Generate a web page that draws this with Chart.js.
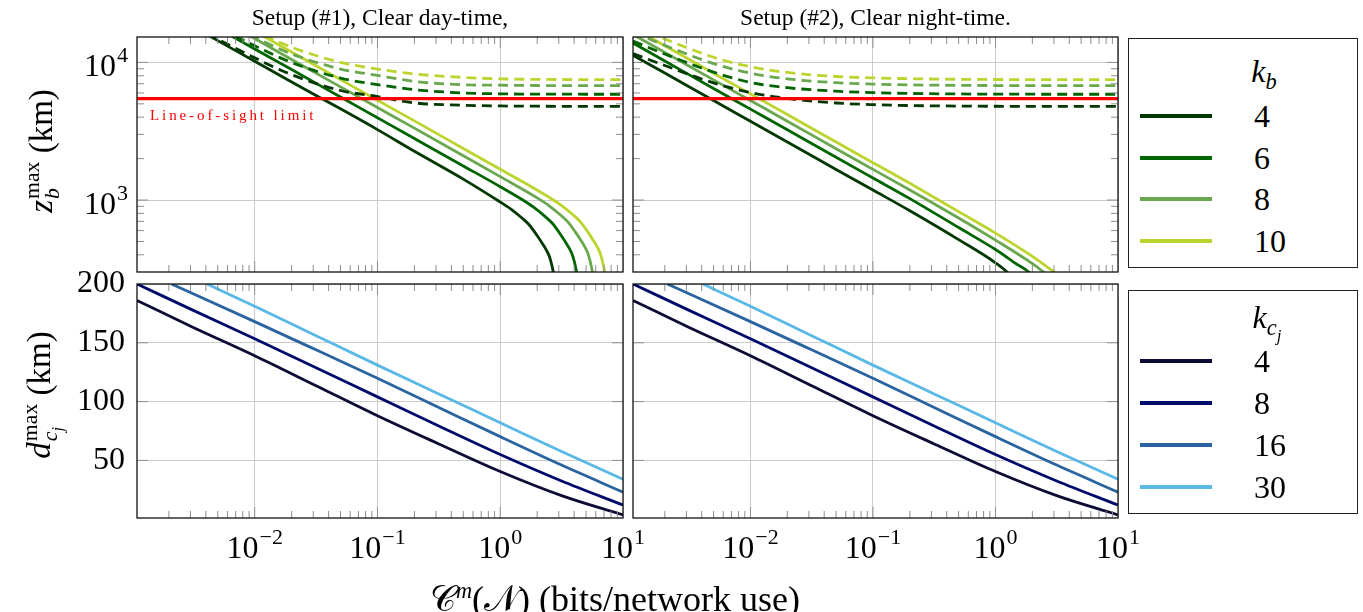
<!DOCTYPE html>
<html>
<head>
<meta charset="utf-8">
<script src="https://cdn.jsdelivr.net/npm/chart.js@4.4.1/dist/chart.umd.min.js"></script>
<style>
  body { margin: 0; background: #fff; }
  #page { position: relative; width: 1363px; height: 612px; overflow: hidden; font-family: 'Liberation Serif', 'DejaVu Serif', serif; color: #000; }
  canvas { position: absolute; }
  .txt { position: absolute; white-space: nowrap; line-height: 1; }
  .rot { transform: translate(-50%, -50%) rotate(-90deg); }
  .ss { display: inline-block; vertical-align: -0.32em; font-size: 0.66em; line-height: 0.9; text-align: left; margin-left: 1px; }
  .ss span { display: block; }
  .leg { position: absolute; border: 1.3px solid #222; background: #fff; }
  .leg .sw { position: absolute; left: 11px; width: 72px; height: 3.5px; }
  .leg .lab { position: absolute; left: 125px; font-size: 32px; line-height: 1; transform: translateY(-50%); }
  .leg .ttl { position: absolute; font-size: 32px; line-height: 1; transform: translate(-50%, -50%); }
</style>
</head>
<body>
<div id="page">
  <canvas id="cTL" width="660" height="280" style="left:0;top:0"></canvas>
  <canvas id="cTR" width="545" height="280" style="left:630px;top:0"></canvas>
  <canvas id="cBL" width="660" height="352" style="left:0;top:260px"></canvas>
  <canvas id="cBR" width="545" height="352" style="left:630px;top:260px"></canvas>

  <div class="txt" style="left:137px;width:486px;top:6px;text-align:center;font-size:23.5px">Setup (#1), Clear day-time,</div>
  <div class="txt" style="left:633px;width:485px;top:6px;text-align:center;font-size:23.5px">Setup (#2), Clear night-time.</div>

  <div class="txt rot" style="left:43px;top:151px;font-size:33px"><i>z</i><span class="ss"><span>max</span><span><i>b</i></span></span> (km)</div>
  <div class="txt rot" style="left:43px;top:395px;font-size:33px"><i>d</i><span class="ss"><span>max</span><span><i>c<sub style="font-size:0.75em">j</sub></i></span></span> (km)</div>
  <div class="txt" style="left:615px;top:598px;transform:translate(-50%,-50%);font-size:36px">𝒞<sup style="font-size:0.62em"><i>m</i></sup>(𝒩) (bits/network use)</div>

  <div class="txt" style="left:150px;top:108px;font-size:15px;letter-spacing:2.9px;color:#ff0000">Line-of-sight limit</div>

  <div class="leg" id="legTop" style="left:1128px;top:38px;width:228px;height:228px"></div>
  <div class="leg" id="legBot" style="left:1128px;top:290px;width:228px;height:222px"></div>
</div>
<script>
// x axis (shared by all panels)
const xMin = 0.0011, xMax = 10;
const xTickValues = [0.01, 0.1, 1, 10];
const xTickExps = ['\u22122', '\u22121', '0', '1'];
const xMinorTicks = [0.002, 0.003, 0.004, 0.005, 0.006, 0.007, 0.008, 0.009,
  0.02, 0.03, 0.04, 0.05, 0.06, 0.07, 0.08, 0.09,
  0.2, 0.3, 0.4, 0.5, 0.6, 0.7, 0.8, 0.9,
  2, 3, 4, 5, 6, 7, 8, 9];

// top panels (z_b max, log scale)
const zMin = 300, zMax = 15300;
const zTickValues = [1000, 10000];
const zTickExps = ['3', '4'];
const zMinorTicks = [400, 500, 600, 700, 800, 900, 2000, 3000, 4000, 5000, 6000, 7000, 8000, 9000];
const losLimit = 5450;

// bottom panels (d_cj max, linear)
const dMin = 1, dMax = 200;
const dTickValues = [50, 100, 150, 200];
const dTickLabels = ['50', '100', '150', '200'];

const kbValues = ['4', '6', '8', '10'];
const kbColors = ['#033803', '#006400', '#6aa84f', '#bdd42e'];
const kcValues = ['4', '8', '16', '30'];
const kcColors = ['#0b0b36', '#000a6a', '#2a64a0', '#5ab8e6'];

// Setup #1, clear day-time: solid lines
const daySolidK4 = [[0.0011,30900],[0.002,22900],[0.005,14400],[0.01,10200],[0.02,7200],[0.05,4600],[0.1,3250],[0.2,2260],[0.5,1420],[0.97,984],[1.222,859],[1.503,740],[1.726,659],[1.995,553],[2.223,478],[2.382,431],[2.506,392],[2.612,346],[2.673,316],[2.735,284],[2.77,262]];
const daySolidK6 = [[0.0011,37800],[0.002,28000],[0.005,17700],[0.01,12500],[0.02,8870],[0.05,5600],[0.1,3960],[0.2,2800],[0.5,1770],[1,1250],[1.493,1013],[1.879,884],[2.312,761],[2.655,678],[3.069,569],[3.42,491],[3.664,443],[3.855,403],[4.018,356],[4.111,325],[4.207,293],[4.26,263]];
const daySolidK8 = [[0.0011,44900],[0.002,33300],[0.005,21000],[0.01,14900],[0.02,10500],[0.05,6640],[0.1,4700],[0.2,3330],[0.5,2100],[1,1480],[2,1036],[2.518,905],[3.097,779],[3.556,694],[4.111,582],[4.581,503],[4.909,453],[5.164,413],[5.383,364],[5.508,332],[5.636,300],[5.71,268]];
const daySolidK10 = [[0.0011,50700],[0.002,37600],[0.005,23700],[0.01,16800],[0.02,11900],[0.05,7500],[0.1,5310],[0.2,3760],[0.5,2370],[1,1675],[1.6,1325],[2.512,1045],[3.162,912],[3.89,785],[4.467,700],[5.164,587],[5.754,507],[6.166,457],[6.486,416],[6.761,367],[6.918,335],[7.079,302],[7.16,270]];
// Setup #1: dashed lines
const dayDashK4 = [[0.0011,31000],[0.002,23080],[0.005,14760],[0.01,10790],[0.02,8145],[0.05,6250],[0.1,5650],[0.2,5080],[0.5,4885],[1,4828],[2,4805],[5,4795],[10,4792]];
const dayDashK6 = [[0.0011,37970],[0.002,28270],[0.005,18080],[0.01,13210],[0.02,9975],[0.05,7700],[0.1,6900],[0.2,6340],[0.5,6000],[1,5913],[2,5885],[5,5872],[10,5869]];
const dayDashK8 = [[0.0011,43840],[0.002,32640],[0.005,20870],[0.01,15260],[0.02,11520],[0.05,8950],[0.1,8050],[0.2,7280],[0.5,6880],[1,6828],[2,6795],[5,6781],[10,6777]];
const dayDashK10 = [[0.0011,48520],[0.002,36120],[0.005,23100],[0.01,16890],[0.02,12900],[0.05,10000],[0.1,8950],[0.2,8240],[0.5,7780],[1,7600],[2,7530],[5,7504],[10,7500]];

// Setup #2, clear night-time: solid lines
const nightSolidK4 = [[0.0011,11270],[0.002,8366],[0.005,5280],[0.01,3737],[0.02,2645],[0.05,1669],[0.1,1182],[0.2,836],[0.5,516],[1,350],[1.25,298],[1.3,285]];
const nightSolidK6 = [[0.0011,13820],[0.002,10240],[0.005,6465],[0.01,4577],[0.02,3240],[0.05,2044],[0.1,1447],[0.2,1024],[0.5,631],[1,437],[1.5,341],[1.88,298],[1.95,285]];
const nightSolidK8 = [[0.0011,15960],[0.002,11830],[0.005,7464],[0.01,5284],[0.02,3741],[0.05,2360],[0.1,1671],[0.2,1183],[0.5,740],[1,511],[2,345],[2.6,290]];
const nightSolidK10 = [[0.0011,17850],[0.002,13230],[0.005,8347],[0.01,5908],[0.02,4183],[0.05,2639],[0.1,1868],[0.2,1323],[0.5,824],[1,575],[2,390],[3.15,292]];
// Setup #2: dashed lines
const nightDashK4 = [[0.0011,11600],[0.002,9500],[0.005,7100],[0.01,6050],[0.02,5472],[0.05,5072],[0.1,4933],[0.2,4862],[0.5,4818],[1,4802],[10,4792]];
const nightDashK6 = [[0.0011,14300],[0.002,11500],[0.005,8500],[0.01,7150],[0.02,6550],[0.05,6180],[0.1,6030],[0.2,5950],[0.5,5900],[1,5881],[10,5869]];
const nightDashK8 = [[0.0011,16500],[0.002,13300],[0.005,9800],[0.01,8350],[0.02,7600],[0.05,7120],[0.1,6960],[0.2,6870],[0.5,6814],[1,6791],[10,6777]];
const nightDashK10 = [[0.0011,18500],[0.002,14800],[0.005,10900],[0.01,9300],[0.02,8450],[0.05,7900],[0.1,7720],[0.2,7609],[0.5,7540],[1,7515],[10,7500]];

// bottom panels (same in both setups)
const distK4 = [[0.0011,186],[0.0031,163.5],[0.01,139],[0.0316,113.5],[0.1,88],[0.316,64],[1,40.5],[3.16,20],[10,3.6]];
const distK8 = [[0.0011,200],[0.0031,178],[0.01,153.5],[0.0316,128.8],[0.1,104],[0.316,79.3],[1,55],[3.16,32.5],[10,12]];
const distK16 = [[0.0021,200],[0.01,168],[0.0316,144],[0.1,119.8],[0.316,95],[1,70.2],[3.16,46],[10,23]];
const distK30 = [[0.0041,200],[0.01,181],[0.0316,156],[0.1,131],[0.316,106.5],[1,82],[3.16,57.5],[10,34]];

const serif = "'Liberation Serif', 'DejaVu Serif', serif";
Chart.defaults.font.family = serif;
Chart.defaults.color = '#000';

// frame, inward ticks and "10^n" tick labels
const framePlugin = {
  id: 'frame',
  afterDraw(chart, args, o) {
    const { ctx, chartArea: a } = chart;
    const sx = chart.scales.x, sy = chart.scales.y;
    const seg = (x1, y1, x2, y2) => { ctx.beginPath(); ctx.moveTo(x1, y1); ctx.lineTo(x2, y2); ctx.stroke(); };
    ctx.save();
    ctx.strokeStyle = '#8f8f8f';
    ctx.lineWidth = 1;
    const xt = (list, len) => list.forEach(v => {
      const p = sx.getPixelForValue(v);
      if (p <= a.left + 0.5 || p >= a.right - 0.5) return;
      seg(p, a.bottom, p, a.bottom - len); seg(p, a.top, p, a.top + len);
    });
    const yt = (list, len) => list.forEach(v => {
      const p = sy.getPixelForValue(v);
      if (p <= a.top + 0.5 || p >= a.bottom - 0.5) return;
      seg(a.left, p, a.left + len, p); seg(a.right, p, a.right - len, p);
    });
    xt(o.xMinor, 7); xt(o.xMajor, 11);
    yt(o.yMinor, 7); yt(o.yMajor, 11);
    ctx.strokeStyle = '#111';
    ctx.lineWidth = 1.3;
    ctx.strokeRect(a.left, a.top, a.width, a.height);

    ctx.fillStyle = '#000';
    ctx.textBaseline = 'alphabetic';
    ctx.textAlign = 'left';
    const base = '32px ' + serif, sup = '22px ' + serif;
    const power = (exp, left, baseY) => {
      ctx.font = base; ctx.fillText('10', left, baseY);
      const w = ctx.measureText('10').width;
      ctx.font = sup; ctx.fillText(exp, left + w + 1, baseY - 14);
    };
    const width = exp => {
      ctx.font = base; const w1 = ctx.measureText('10').width;
      ctx.font = sup; return w1 + 1 + ctx.measureText(exp).width;
    };
    if (o.xExps) o.xMajor.forEach((v, i) => {
      const p = sx.getPixelForValue(v);
      power(o.xExps[i], p - width(o.xExps[i]) / 2, a.bottom + 40);
    });
    if (o.yExps) o.yMajor.forEach((v, i) => {
      const p = sy.getPixelForValue(v);
      power(o.yExps[i], a.left - 9 - width(o.yExps[i]), p + 14);
    });
    ctx.restore();
  }
};

function line(points, color, dashed, width) {
  return {
    data: points.map(p => ({ x: p[0], y: p[1] })),
    borderColor: color,
    borderWidth: width || 2.8,
    borderDash: dashed ? [10, 6] : [],
    pointRadius: 0,
    cubicInterpolationMode: 'monotone',
    fill: false
  };
}

function makeChart(id, datasets, c) {
  new Chart(document.getElementById(id), {
    type: 'line',
    data: { datasets: datasets },
    plugins: [framePlugin],
    options: {
      responsive: false,
      animation: false,
      events: [],
      layout: { padding: c.padding },
      plugins: {
        legend: { display: false },
        tooltip: { enabled: false },
        frame: { xMinor: xMinorTicks, xMajor: xTickValues, yMinor: c.yMinor, yMajor: c.yTicks,
                 xExps: c.showX ? xTickExps : null, yExps: c.yExps }
      },
      scales: {
        x: {
          type: 'logarithmic', min: xMin, max: xMax,
          afterBuildTicks: s => { s.ticks = xTickValues.map(v => ({ value: v })); },
          afterFit: s => { s.height = c.xHeight; s.paddingLeft = 0; s.paddingRight = 0; },
          ticks: { display: false },
          grid: { color: '#cbcbcb', lineWidth: 1, drawTicks: false },
          border: { display: false }
        },
        y: {
          type: c.yType, min: c.yMin, max: c.yMax,
          afterBuildTicks: s => { s.ticks = c.yTicks.map(v => ({ value: v })); },
          afterFit: s => { s.width = c.yWidth; s.paddingTop = 0; s.paddingBottom = 0; },
          ticks: { display: c.showYText, autoSkip: false, padding: 12, font: { size: 32 },
                   callback: (v, i) => c.yLabels ? c.yLabels[i] : '' },
          grid: { color: '#cbcbcb', lineWidth: 1, drawTicks: false },
          border: { display: false }
        }
      }
    }
  });
}

function topSets(solid, dash) {
  const red = line([[xMin, losLimit], [xMax, losLimit]], '#ff0000', false, 3.2);
  const sets = [red];
  for (let i = 3; i >= 0; i--) sets.push(line(dash[i], kbColors[i], true));
  for (let i = 3; i >= 0; i--) sets.push(line(solid[i], kbColors[i], false));
  return sets;
}
function bottomSets() {
  const d = [distK4, distK8, distK16, distK30];
  return d.map((p, i) => line(p, kcColors[i], false)).reverse();
}

const topCfg = { yType: 'logarithmic', yMin: zMin, yMax: zMax, yTicks: zTickValues, yMinor: zMinorTicks, xHeight: 8, showX: false, showYText: false };
const botCfg = { yType: 'linear', yMin: dMin, yMax: dMax, yTicks: dTickValues, yMinor: [], xHeight: 94, showX: true, yExps: null };

makeChart('cTL', topSets([daySolidK4, daySolidK6, daySolidK8, daySolidK10], [dayDashK4, dayDashK6, dayDashK8, dayDashK10]),
  Object.assign({}, topCfg, { yExps: zTickExps, yWidth: 137, padding: { top: 37, right: 37, bottom: 0, left: 0 } }));
makeChart('cTR', topSets([nightSolidK4, nightSolidK6, nightSolidK8, nightSolidK10], [nightDashK4, nightDashK6, nightDashK8, nightDashK10]),
  Object.assign({}, topCfg, { yExps: null, yWidth: 3, padding: { top: 37, right: 57, bottom: 0, left: 0 } }));
makeChart('cBL', bottomSets(),
  Object.assign({}, botCfg, { showYText: true, yLabels: dTickLabels, yWidth: 137, padding: { top: 24, right: 37, bottom: 0, left: 0 } }));
makeChart('cBR', bottomSets(),
  Object.assign({}, botCfg, { showYText: false, yWidth: 3, padding: { top: 24, right: 57, bottom: 0, left: 0 } }));

// legends
function buildLegend(id, title, labels, colors, titleX, titleY, rows) {
  const box = document.getElementById(id);
  let html = `<div class="ttl" style="left:${titleX}px;top:${titleY}px">${title}</div>`;
  labels.forEach((lab, i) => {
    html += `<div class="sw" style="top:${rows[i] - 2}px;background:${colors[i]}"></div>`;
    html += `<div class="lab" style="top:${rows[i]}px">${lab}</div>`;
  });
  box.innerHTML = html;
}
buildLegend('legTop', '<i>k<sub style="font-size:0.7em">b</sub></i>', kbValues, kbColors, 135, 35, [77, 119, 160, 202]);
buildLegend('legBot', '<i>k<sub style="font-size:0.7em">c<sub style="font-size:0.75em">j</sub></sub></i>', kcValues, kcColors, 138, 32, [70, 112, 154, 196]);
</script>
</body>
</html>
